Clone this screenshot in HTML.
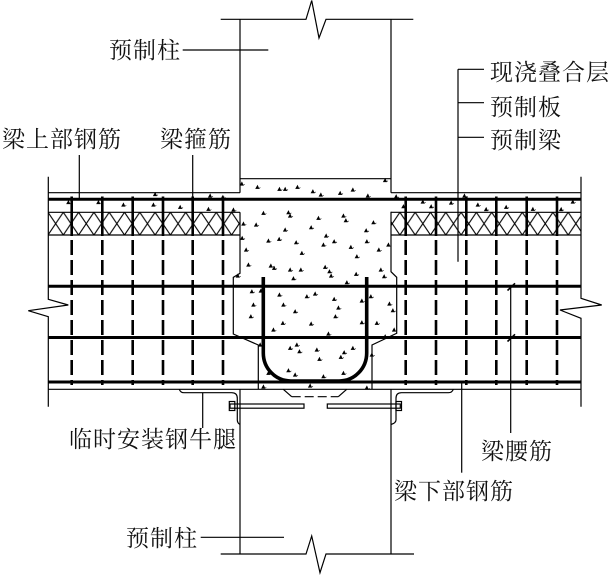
<!DOCTYPE html>
<html>
<head>
<meta charset="utf-8">
<style>
html,body{margin:0;padding:0;background:#fff;}
svg{display:block;}
text{font-family:"Liberation Serif","Noto Serif CJK SC","Noto Sans CJK SC",serif;font-size:23px;letter-spacing:1px;fill:#111;}
</style>
</head>
<body>
<svg width="612" height="575" viewBox="0 0 612 575" xmlns="http://www.w3.org/2000/svg">
<defs>
  <pattern id="hx" patternUnits="userSpaceOnUse" x="48" y="212.3" width="15.3" height="22.7">
    <path d="M0 0 L15.3 22.7 M15.3 0 L0 22.7" stroke="#000" stroke-width="1.1" fill="none"/>
  </pattern>
  <path id="d" d="M-1.6 1.3 L0.2 -1.9 L1.6 1.3 Z M1.6 1.3 L3 0.2" fill="#000" stroke="#000" stroke-width="0.6"/>
</defs>
<rect width="612" height="575" fill="#fff"/>

<g stroke="#000" stroke-width="1.2" fill="none">
  <!-- top column break -->
  <path d="M220.7 19.3 H306 L311.7 0.5 L319 38 L326 19.3 H413.3"/>
  <!-- column edges top -->
  <path d="M240 19.3 V192.7 M391 19.3 V192.7"/>
  <!-- concrete top -->
  <path d="M240 178.7 H391"/>
  <!-- beam top outline -->
  <path d="M48.3 192.7 H240 M391 192.7 H581"/>
  <!-- left beam edge with break -->
  <path d="M48.3 176.7 V299.3 L68.3 305 L28.3 310.7 L48.3 316.7 V406.7"/>
  <!-- right beam edge with break -->
  <path d="M581 176.7 V298.3 L601.7 305 L560 310 L581 318.3 V406.7"/>
  <!-- beam bottom -->
  <path d="M48.3 389.3 H581"/>
  <!-- hatch frames -->
  <path d="M48.3 212.3 H240 M48.3 235 H240 M391 212.3 H581 M391 235 H581"/>
  <!-- joint boundaries -->
  <path d="M240 212.3 V273.3 L233.3 277.3 V334 L258.3 345 V389.3"/>
  <path d="M391 211.7 V271.7 L396.7 277.3 V333.3 L372 345 V389.3"/>
  <!-- dashed trapezoid -->
  <path d="M283.3 389.3 L291.7 396.7 M338.3 396.7 L346.7 389.3"/>
  <path d="M291.7 396.7 H338.3" stroke-dasharray="9 4"/>
  <!-- column edges bottom -->
  <path d="M240 389.3 V554 M391 389.3 V554"/>
  <!-- bottom column break -->
  <path d="M220.7 554 H306 L311.7 536 L320 572.7 L326 554 H414"/>
  <!-- steel corbels -->
  <path d="M179.3 389.3 Q180.5 392.7 184 392.7 H231.7 Q237.3 392.7 237.3 398.3 V420 Q237.3 423 240 424.5"/>
  <path d="M453.3 389.3 Q452 392.7 448.5 392.7 H401.5 Q396 392.7 396 398.3 V420 Q396 423 391 424.5"/>
  <rect x="230" y="404" width="74" height="4.2"/>
  <rect x="327.3" y="404" width="73" height="4.2"/>
  <rect x="229.3" y="401.5" width="5.5" height="9"/>
  <rect x="396" y="401.5" width="5.5" height="9"/>
  <!-- leaders -->
  <path d="M182.7 50 H268.3"/>
  <path d="M79.3 155 V199"/>
  <path d="M192.7 155 V199"/>
  <path d="M458 69.3 V261.7 M458 69.3 H484 M458 102.7 H484 M458 137.3 H484"/>
  <path d="M202.7 392.7 V428"/>
  <path d="M461.7 383 V472.7"/>
  <path d="M510.7 287 V433"/>
  <path d="M507.5 290.5 L515 283.3 M507.5 341.5 L515 334.3" stroke-width="1.6"/>
  <path d="M200.7 537.3 H284"/>
</g>

<!-- hatch -->
<rect x="48.3" y="212.3" width="191.7" height="22.7" fill="url(#hx)"/>
<rect x="391" y="212.3" width="190" height="22.7" fill="url(#hx)"/>

<!-- longitudinal bars -->
<g stroke="#000" stroke-width="3" fill="none">
  <path d="M48.3 199.3 H581 M48.3 286.3 H581 M48.3 337.5 H581 M48.3 382 H581"/>
</g>

<!-- stirrups -->
<g stroke="#000" stroke-width="2.6" fill="none">
  <path d="M71.7 196.5 V236 M102.3 196.5 V236 M132.7 196.5 V236 M163 196.5 V236 M192.7 196.5 V236 M223 196.5 V236 M405.7 196.5 V236 M436 196.5 V236 M466.3 196.5 V236 M496.3 196.5 V236 M526.7 196.5 V236 M557 196.5 V236"/>
  <path stroke-dasharray="15 5" d="M71.7 240 V385 M102.3 240 V385 M132.7 240 V385 M163 240 V385 M192.7 240 V385 M223 240 V385 M405.7 240 V385 M436 240 V385 M466.3 240 V385 M496.3 240 V385 M526.7 240 V385 M557 240 V385"/>
</g>

<!-- U bar -->
<path d="M263.3 277 V353 A27.5 28 0 0 0 290.8 381 H339.2 A27.5 28 0 0 0 366.7 353 V277" stroke="#000" stroke-width="3.6" fill="none"/>

<!-- concrete marks -->
<g>
<use href="#d" x="241.7" y="184"/><use href="#d" x="257.3" y="187.3"/><use href="#d" x="279.3" y="189.3"/><use href="#d" x="285" y="189.3"/><use href="#d" x="297.3" y="187.3"/><use href="#d" x="312.7" y="191.7"/><use href="#d" x="320.7" y="195"/><use href="#d" x="340" y="193.3"/><use href="#d" x="352.7" y="190"/><use href="#d" x="367.7" y="196"/><use href="#d" x="385" y="180.5"/><use href="#d" x="210" y="196"/><use href="#d" x="222.7" y="197.3"/><use href="#d" x="233.3" y="210"/><use href="#d" x="263.3" y="213.3"/><use href="#d" x="288.3" y="212.7"/><use href="#d" x="290" y="216"/><use href="#d" x="318.3" y="218.3"/><use href="#d" x="343.3" y="216"/><use href="#d" x="345.7" y="220.7"/><use href="#d" x="373.3" y="222.7"/><use href="#d" x="243.3" y="224"/><use href="#d" x="256" y="225"/><use href="#d" x="285" y="230"/><use href="#d" x="311" y="227.7"/><use href="#d" x="326" y="236"/><use href="#d" x="334" y="241.7"/><use href="#d" x="366" y="230.7"/><use href="#d" x="366.7" y="241.7"/><use href="#d" x="378.7" y="250"/><use href="#d" x="356.7" y="256.7"/><use href="#d" x="350.7" y="247.3"/><use href="#d" x="323.3" y="245"/><use href="#d" x="296" y="242.7"/><use href="#d" x="279" y="239.3"/><use href="#d" x="268.3" y="241"/><use href="#d" x="246" y="250"/><use href="#d" x="242" y="238.3"/><use href="#d" x="301.7" y="253.3"/><use href="#d" x="248.3" y="265"/><use href="#d" x="270.7" y="266"/><use href="#d" x="274" y="268.3"/><use href="#d" x="290" y="270"/><use href="#d" x="300.7" y="270"/><use href="#d" x="325" y="267.3"/><use href="#d" x="329.3" y="271.7"/><use href="#d" x="331" y="276"/><use href="#d" x="346.7" y="282.7"/><use href="#d" x="356" y="274.3"/><use href="#d" x="380.7" y="270"/><use href="#d" x="384" y="276.7"/><use href="#d" x="293.3" y="278.7"/><use href="#d" x="237.7" y="276"/><use href="#d" x="388.3" y="245"/><use href="#d" x="251.7" y="291.7"/><use href="#d" x="260.7" y="291"/><use href="#d" x="279.3" y="295"/><use href="#d" x="306.7" y="296.7"/><use href="#d" x="315" y="294"/><use href="#d" x="334" y="299.3"/><use href="#d" x="338.3" y="308"/><use href="#d" x="335.3" y="316.7"/><use href="#d" x="361.7" y="301"/><use href="#d" x="370.7" y="296.7"/><use href="#d" x="389.3" y="304"/><use href="#d" x="392.7" y="310.7"/><use href="#d" x="283.3" y="305"/><use href="#d" x="253.3" y="305"/><use href="#d" x="295" y="311.7"/><use href="#d" x="250.7" y="316.7"/>
<use href="#d" x="260" y="345"/><use href="#d" x="290" y="348.3"/><use href="#d" x="296.7" y="345"/><use href="#d" x="299.3" y="351.7"/><use href="#d" x="316.7" y="350"/><use href="#d" x="328.3" y="334"/><use href="#d" x="344" y="352.7"/><use href="#d" x="340.7" y="357.3"/><use href="#d" x="352.7" y="348.3"/><use href="#d" x="319.3" y="359.3"/><use href="#d" x="288.3" y="370.7"/><use href="#d" x="295" y="375"/><use href="#d" x="323.3" y="376.7"/><use href="#d" x="343.3" y="373.3"/><use href="#d" x="310" y="386"/><use href="#d" x="263.3" y="387"/><use href="#d" x="366.7" y="388"/><use href="#d" x="371.7" y="355"/><use href="#d" x="376.7" y="323.3"/><use href="#d" x="361.7" y="322.7"/><use href="#d" x="273.3" y="330"/><use href="#d" x="282.7" y="323.3"/><use href="#d" x="311" y="324"/><use href="#d" x="394" y="330"/><use href="#d" x="385" y="336.7"/><use href="#d" x="268.3" y="373.3"/>
<use href="#d" x="68.3" y="202.5"/><use href="#d" x="98.3" y="202.5"/><use href="#d" x="123.3" y="205"/><use href="#d" x="153.3" y="205"/><use href="#d" x="180" y="207.3"/><use href="#d" x="208.3" y="209.3"/><use href="#d" x="155" y="194.5"/><use href="#d" x="396" y="196.7"/><use href="#d" x="403.3" y="206.7"/><use href="#d" x="422.7" y="202"/><use href="#d" x="431" y="206.7"/><use href="#d" x="451" y="203"/><use href="#d" x="464.3" y="196"/><use href="#d" x="477.7" y="205"/><use href="#d" x="486" y="209.5"/><use href="#d" x="506" y="207.3"/><use href="#d" x="532.7" y="209.3"/><use href="#d" x="561" y="209.5"/><use href="#d" x="572.7" y="202"/>
</g>

<!-- labels -->
<text x="109" y="58">预制柱</text>
<text x="2" y="147">梁上部钢筋</text>
<text x="160" y="147">梁箍筋</text>
<text x="490" y="80">现浇叠合层</text>
<text x="490" y="115">预制板</text>
<text x="490" y="148">预制梁</text>
<text x="69" y="447">临时安装钢牛腿</text>
<text x="481" y="459">梁腰筋</text>
<text x="394" y="499">梁下部钢筋</text>
<text x="126" y="546">预制柱</text>
</svg>
</body>
</html>
